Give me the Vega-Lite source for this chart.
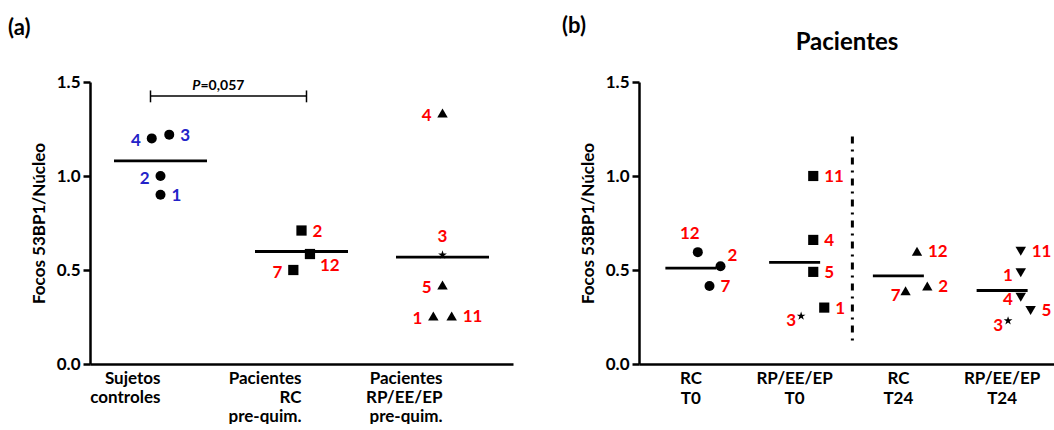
{
  "$schema": "https://vega.github.io/schema/vega-lite/v6.json",
  "background": "white",
  "padding": {"left": 8, "top": 15, "right": 0, "bottom": 0},
  "config": {
    "view": {"stroke": null},
    "font": "Lato",
    "axis": {"labelFont": "Lato", "labelFontSize": 17, "labelFontWeight": "bold", "labelColor": "black", "titleFont": "Lato", "titleFontSize": 17, "titleFontWeight": "bold", "titleColor": "black", "domainColor": "black", "domainWidth": 2.5, "tickColor": "black", "tickWidth": 2.5, "tickSize": 7, "grid": false},
    "title": {"font": "Lato", "fontSize": 22, "fontWeight": "bold", "color": "black"},
    "text": {"font": "Lato"}
  },
  "datasets": {
    "a": [
      {"grupo": "Sujetos controles", "id": 4, "valor": 1.20, "jitter": -0.062},
      {"grupo": "Sujetos controles", "id": 3, "valor": 1.22, "jitter": 0.062},
      {"grupo": "Sujetos controles", "id": 2, "valor": 1.00, "jitter": 0},
      {"grupo": "Sujetos controles", "id": 1, "valor": 0.90, "jitter": 0},
      {"grupo": "Pacientes RC pre-quim.", "id": 2, "valor": 0.71, "jitter": 0},
      {"grupo": "Pacientes RC pre-quim.", "id": 12, "valor": 0.585, "jitter": 0.06},
      {"grupo": "Pacientes RC pre-quim.", "id": 7, "valor": 0.50, "jitter": -0.058},
      {"grupo": "Pacientes RP/EE/EP pre-quim.", "id": 4, "valor": 1.335, "jitter": 0},
      {"grupo": "Pacientes RP/EE/EP pre-quim.", "id": 3, "valor": 0.58, "jitter": 0},
      {"grupo": "Pacientes RP/EE/EP pre-quim.", "id": 5, "valor": 0.42, "jitter": 0},
      {"grupo": "Pacientes RP/EE/EP pre-quim.", "id": 1, "valor": 0.255, "jitter": -0.065},
      {"grupo": "Pacientes RP/EE/EP pre-quim.", "id": 11, "valor": 0.255, "jitter": 0.065}
    ],
    "b": [
      {"grupo": "RC T0", "id": 12, "valor": 0.595, "jitter": -0.083},
      {"grupo": "RC T0", "id": 2, "valor": 0.52, "jitter": 0.078},
      {"grupo": "RC T0", "id": 7, "valor": 0.415, "jitter": 0},
      {"grupo": "RP/EE/EP T0", "id": 11, "valor": 1.00, "jitter": 0},
      {"grupo": "RP/EE/EP T0", "id": 4, "valor": 0.66, "jitter": 0},
      {"grupo": "RP/EE/EP T0", "id": 5, "valor": 0.49, "jitter": 0},
      {"grupo": "RP/EE/EP T0", "id": 1, "valor": 0.30, "jitter": 0.078},
      {"grupo": "RP/EE/EP T0", "id": 3, "valor": 0.255, "jitter": -0.086},
      {"grupo": "RC T24", "id": 12, "valor": 0.60, "jitter": 0},
      {"grupo": "RC T24", "id": 7, "valor": 0.39, "jitter": -0.081},
      {"grupo": "RC T24", "id": 2, "valor": 0.415, "jitter": 0.073},
      {"grupo": "RP/EE/EP T24", "id": 11, "valor": 0.60, "jitter": 0},
      {"grupo": "RP/EE/EP T24", "id": 1, "valor": 0.485, "jitter": 0},
      {"grupo": "RP/EE/EP T24", "id": 4, "valor": 0.355, "jitter": 0},
      {"grupo": "RP/EE/EP T24", "id": 5, "valor": 0.285, "jitter": 0.07},
      {"grupo": "RP/EE/EP T24", "id": 3, "valor": 0.23, "jitter": -0.09}
    ]
  },
  "spacing": 126,
  "bounds": "flush",
  "resolve": {"scale": {"shape": "independent", "size": "independent"}},
  "hconcat": [
    {
      "width": 423,
      "height": 282,
      "data": {"name": "a"},
      "title": {"text": "(a)", "anchor": "start", "frame": "group", "dx": -82, "dy": -29},
      "layer": [
        {
          "data": {"values": [{}]},
          "mark": {"type": "rule", "strokeWidth": 1.5, "color": "black", "xOffset": -10, "x2Offset": 5},
          "encoding": {"x": {"datum": "Sujetos controles", "type": "nominal"}, "x2": {"datum": "Pacientes RC pre-quim."}, "y": {"datum": 1.425, "type": "quantitative"}}
        },
        {
          "data": {"values": [{}]},
          "mark": {"type": "rule", "strokeWidth": 1.5, "color": "black", "xOffset": -10},
          "encoding": {"x": {"datum": "Sujetos controles", "type": "nominal"}, "y": {"datum": 1.455, "type": "quantitative"}, "y2": {"datum": 1.392}}
        },
        {
          "data": {"values": [{}]},
          "mark": {"type": "rule", "strokeWidth": 1.5, "color": "black", "xOffset": 5},
          "encoding": {"x": {"datum": "Pacientes RC pre-quim.", "type": "nominal"}, "y": {"datum": 1.455, "type": "quantitative"}, "y2": {"datum": 1.392}}
        },
        {
          "data": {"values": [{}]},
          "mark": {"type": "text", "text": "P", "fontStyle": "italic", "fontWeight": "bold", "fontSize": 14, "align": "right", "baseline": "middle", "color": "black", "xOffset": 40},
          "encoding": {"x": {"datum": "Sujetos controles", "type": "nominal"}, "y": {"datum": 1.477, "type": "quantitative"}}
        },
        {
          "data": {"values": [{}]},
          "mark": {"type": "text", "text": "=0,057", "fontWeight": "bold", "fontSize": 14, "align": "left", "baseline": "middle", "color": "black", "xOffset": 40},
          "encoding": {"x": {"datum": "Sujetos controles", "type": "nominal"}, "y": {"datum": 1.477, "type": "quantitative"}}
        },
        {
          "mark": {"type": "point", "filled": true, "color": "black", "opacity": 1},
          "encoding": {
            "x": {"field": "grupo", "type": "nominal", "title": null, "scale": {"domain": ["Sujetos controles", "Pacientes RC pre-quim.", "Pacientes RP/EE/EP pre-quim."], "paddingInner": 0, "paddingOuter": 0}, "axis": {"labelAngle": 0, "ticks": false, "labelPadding": 6, "labelExpr": "split(datum.label, ' ')", "labelLineHeight": 19, "labelBaseline": "top"}},
            "xOffset": {"field": "jitter", "type": "quantitative", "scale": {"domain": [-0.5, 0.5]}},
            "y": {"field": "valor", "type": "quantitative", "title": "Focos 53BP1/Núcleo", "scale": {"domain": [0, 1.5], "nice": false}, "axis": {"values": [0, 0.5, 1, 1.5], "format": ".1f", "titlePadding": 8, "labelPadding": 3}},
            "shape": {"condition": {"test": "datum.id == 3 && indexof(datum.grupo, 'RP') >= 0", "value": "M0,-1L0.2245,-0.309L0.9511,-0.309L0.3633,0.118L0.5878,0.809L0,0.382L-0.5878,0.809L-0.3633,0.118L-0.9511,-0.309L-0.2245,-0.309Z"}, "field": "grupo", "type": "nominal", "scale": {"domain": ["Sujetos controles", "Pacientes RC pre-quim.", "Pacientes RP/EE/EP pre-quim."], "range": ["circle", "square", "triangle-up"]}, "legend": null},
            "size": {"condition": {"test": "datum.id == 3 && indexof(datum.grupo, 'RP') >= 0", "value": 85}, "field": "grupo", "type": "ordinal", "scale": {"domain": ["Sujetos controles", "Pacientes RC pre-quim.", "Pacientes RP/EE/EP pre-quim."], "range": [100, 110, 135]}, "legend": null}
          }
        },
        {
          "mark": {"type": "tick", "color": "black", "thickness": 2.8, "size": 93},
          "encoding": {
            "x": {"field": "grupo", "type": "nominal", "title": null},
            "y": {"aggregate": "mean", "field": "valor", "type": "quantitative", "title": "Focos 53BP1/Núcleo"}
          }
        },
        {
          "transform": [{"filter": "indexof(['Sujetos controles|3', 'Sujetos controles|1', 'Pacientes RP/EE/EP pre-quim.|11', 'Pacientes RC pre-quim.|2'], datum.grupo + '|' + datum.id) >= 0"}],
          "mark": {"type": "text", "align": "left", "baseline": "middle", "dx": 11, "dy": 1, "fontSize": 17, "fontWeight": "bold"},
          "encoding": {
            "x": {"field": "grupo", "type": "nominal", "title": null},
            "xOffset": {"field": "jitter", "type": "quantitative"},
            "y": {"field": "valor", "type": "quantitative", "title": "Focos 53BP1/Núcleo"},
            "text": {"field": "id"},
            "color": {"condition": {"test": "datum.grupo == 'Sujetos controles'", "value": "#2323c8"}, "value": "#ff0000"}
          }
        },
        {
          "transform": [{"filter": "indexof(['Sujetos controles|4', 'Sujetos controles|2', 'Pacientes RC pre-quim.|7', 'Pacientes RP/EE/EP pre-quim.|4', 'Pacientes RP/EE/EP pre-quim.|5', 'Pacientes RP/EE/EP pre-quim.|1'], datum.grupo + '|' + datum.id) >= 0"}],
          "mark": {"type": "text", "align": "right", "baseline": "middle", "dx": -11, "dy": 3, "fontSize": 17, "fontWeight": "bold"},
          "encoding": {
            "x": {"field": "grupo", "type": "nominal", "title": null},
            "xOffset": {"field": "jitter", "type": "quantitative"},
            "y": {"field": "valor", "type": "quantitative", "title": "Focos 53BP1/Núcleo"},
            "text": {"field": "id"},
            "color": {"condition": {"test": "datum.grupo == 'Sujetos controles'", "value": "#2323c8"}, "value": "#ff0000"}
          }
        },
        {
          "transform": [{"filter": "indexof(['Pacientes RP/EE/EP pre-quim.|3'], datum.grupo + '|' + datum.id) >= 0"}],
          "mark": {"type": "text", "align": "center", "baseline": "middle", "dy": -18, "fontSize": 17, "fontWeight": "bold", "color": "#ff0000"},
          "encoding": {
            "x": {"field": "grupo", "type": "nominal", "title": null},
            "xOffset": {"field": "jitter", "type": "quantitative"},
            "y": {"field": "valor", "type": "quantitative", "title": "Focos 53BP1/Núcleo"},
            "text": {"field": "id"}
          }
        },
        {
          "transform": [{"filter": "indexof(['Pacientes RC pre-quim.|12'], datum.grupo + '|' + datum.id) >= 0"}],
          "mark": {"type": "text", "align": "left", "baseline": "middle", "dx": 10, "dy": 12, "fontSize": 17, "fontWeight": "bold", "color": "#ff0000"},
          "encoding": {
            "x": {"field": "grupo", "type": "nominal", "title": null},
            "xOffset": {"field": "jitter", "type": "quantitative"},
            "y": {"field": "valor", "type": "quantitative", "title": "Focos 53BP1/Núcleo"},
            "text": {"field": "id"}
          }
        }
      ]
    },
    {
      "width": 415,
      "height": 282,
      "data": {"name": "b"},
      "title": {"text": "(b)", "anchor": "start", "frame": "group", "dx": -77, "dy": 12},
      "resolve": {"axis": {"x": "independent"}},
      "layer": [
        {
          "data": {"values": [{}]},
          "mark": {"type": "rule", "strokeWidth": 3, "strokeDash": [7, 6, 2, 6], "color": "black", "xOffset": -46},
          "encoding": {"x": {"datum": "RC T24", "type": "nominal", "axis": null}, "y": {"datum": 1.21, "type": "quantitative"}, "y2": {"datum": 0.106}}
        },
        {
          "mark": {"type": "point", "filled": true, "color": "black", "opacity": 1},
          "encoding": {
            "x": {"field": "grupo", "type": "nominal", "title": null, "scale": {"domain": ["RC T0", "RP/EE/EP T0", "RC T24", "RP/EE/EP T24"], "paddingInner": 0, "paddingOuter": 0}, "axis": {"labelAngle": 0, "ticks": false, "labelPadding": 6, "labelExpr": "split(datum.label, ' ')", "labelLineHeight": 20, "labelBaseline": "top"}},
            "xOffset": {"field": "jitter", "type": "quantitative", "scale": {"domain": [-0.5, 0.5]}},
            "y": {"field": "valor", "type": "quantitative", "title": "Focos 53BP1/Núcleo", "scale": {"domain": [0, 1.5], "nice": false}, "axis": {"values": [0, 0.5, 1, 1.5], "format": ".1f", "titlePadding": 8, "labelPadding": 3}},
            "shape": {"condition": {"test": "datum.id == 3 && indexof(datum.grupo, 'RP') >= 0", "value": "M0,-1L0.2245,-0.309L0.9511,-0.309L0.3633,0.118L0.5878,0.809L0,0.382L-0.5878,0.809L-0.3633,0.118L-0.9511,-0.309L-0.2245,-0.309Z"}, "field": "grupo", "type": "nominal", "scale": {"domain": ["RC T0", "RP/EE/EP T0", "RC T24", "RP/EE/EP T24"], "range": ["circle", "square", "triangle-up", "triangle-down"]}, "legend": null},
            "size": {"condition": {"test": "datum.id == 3 && indexof(datum.grupo, 'RP') >= 0", "value": 85}, "field": "grupo", "type": "ordinal", "scale": {"domain": ["RC T0", "RP/EE/EP T0", "RC T24", "RP/EE/EP T24"], "range": [100, 110, 135, 135]}, "legend": null}
          }
        },
        {
          "mark": {"type": "tick", "color": "black", "thickness": 2.8, "size": 51},
          "encoding": {
            "x": {"field": "grupo", "type": "nominal", "title": "Pacientes", "axis": {"orient": "top", "domain": false, "ticks": false, "labels": false, "titleFontSize": 24, "titlePadding": 28}},
            "y": {"aggregate": "mean", "field": "valor", "type": "quantitative", "title": "Focos 53BP1/Núcleo"}
          }
        },
        {
          "transform": [{"filter": "indexof(['RC T0|7', 'RP/EE/EP T0|11', 'RP/EE/EP T0|4', 'RP/EE/EP T0|5', 'RP/EE/EP T0|1', 'RC T24|12', 'RC T24|2', 'RP/EE/EP T24|11', 'RP/EE/EP T24|5'], datum.grupo + '|' + datum.id) >= 0"}],
          "mark": {"type": "text", "align": "left", "baseline": "middle", "dx": 11, "dy": 1, "fontSize": 17, "fontWeight": "bold", "color": "#ff0000"},
          "encoding": {
            "x": {"field": "grupo", "type": "nominal", "axis": null},
            "xOffset": {"field": "jitter", "type": "quantitative"},
            "y": {"field": "valor", "type": "quantitative", "title": "Focos 53BP1/Núcleo"},
            "text": {"field": "id"}
          }
        },
        {
          "transform": [{"filter": "indexof(['RP/EE/EP T24|1', 'RP/EE/EP T24|4'], datum.grupo + '|' + datum.id) >= 0"}],
          "mark": {"type": "text", "align": "right", "baseline": "middle", "dx": -8, "dy": 3, "fontSize": 17, "fontWeight": "bold", "color": "#ff0000"},
          "encoding": {
            "x": {"field": "grupo", "type": "nominal", "axis": null},
            "xOffset": {"field": "jitter", "type": "quantitative"},
            "y": {"field": "valor", "type": "quantitative", "title": "Focos 53BP1/Núcleo"},
            "text": {"field": "id"}
          }
        },
        {
          "transform": [{"filter": "indexof(['RP/EE/EP T0|3', 'RC T24|7', 'RP/EE/EP T24|3'], datum.grupo + '|' + datum.id) >= 0"}],
          "mark": {"type": "text", "align": "right", "baseline": "middle", "dx": -5, "dy": 5, "fontSize": 17, "fontWeight": "bold", "color": "#ff0000"},
          "encoding": {
            "x": {"field": "grupo", "type": "nominal", "axis": null},
            "xOffset": {"field": "jitter", "type": "quantitative"},
            "y": {"field": "valor", "type": "quantitative", "title": "Focos 53BP1/Núcleo"},
            "text": {"field": "id"}
          }
        },
        {
          "transform": [{"filter": "indexof(['RC T0|12'], datum.grupo + '|' + datum.id) >= 0"}],
          "mark": {"type": "text", "align": "center", "baseline": "middle", "dx": -8, "dy": -18, "fontSize": 17, "fontWeight": "bold", "color": "#ff0000"},
          "encoding": {
            "x": {"field": "grupo", "type": "nominal", "axis": null},
            "xOffset": {"field": "jitter", "type": "quantitative"},
            "y": {"field": "valor", "type": "quantitative", "title": "Focos 53BP1/Núcleo"},
            "text": {"field": "id"}
          }
        },
        {
          "transform": [{"filter": "indexof(['RC T0|2'], datum.grupo + '|' + datum.id) >= 0"}],
          "mark": {"type": "text", "align": "left", "baseline": "middle", "dx": 7, "dy": -10, "fontSize": 17, "fontWeight": "bold", "color": "#ff0000"},
          "encoding": {
            "x": {"field": "grupo", "type": "nominal", "axis": null},
            "xOffset": {"field": "jitter", "type": "quantitative"},
            "y": {"field": "valor", "type": "quantitative", "title": "Focos 53BP1/Núcleo"},
            "text": {"field": "id"}
          }
        }
      ]
    }
  ]
}
